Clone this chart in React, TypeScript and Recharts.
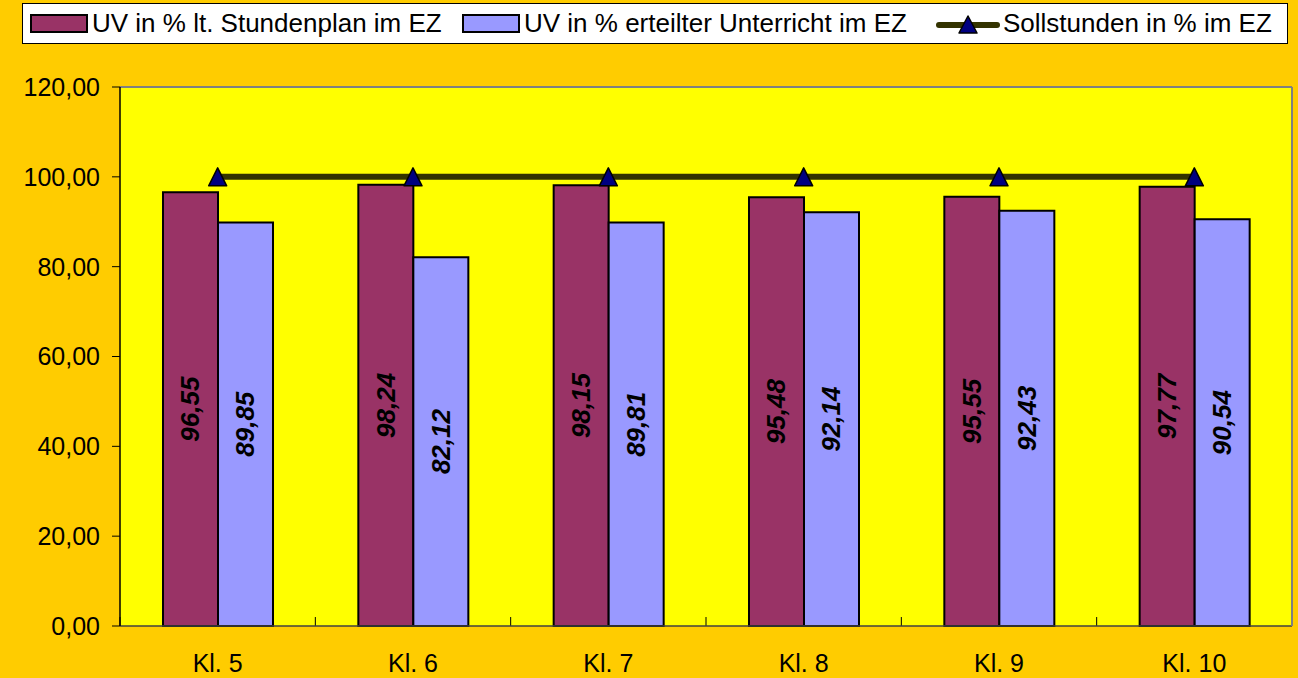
import React from "react";
import {
  ComposedChart,
  Bar,
  Line,
  XAxis,
  YAxis,
  CartesianGrid,
  ReferenceLine,
  LabelList,
} from "recharts";

const categories = ["Kl. 5", "Kl. 6", "Kl. 7", "Kl. 8", "Kl. 9", "Kl. 10"];
const planValues = [96.55, 98.24, 98.15, 95.48, 95.55, 97.77];
const erteiltValues = [89.85, 82.12, 89.81, 92.14, 92.43, 90.54];
const sollValues = [100, 100, 100, 100, 100, 100];
const yTicks = [0, 20, 40, 60, 80, 100, 120];
const boundaryTicks = [0, 1, 2, 3, 4, 5];

const seriesNames = [
  "UV in % lt. Stundenplan im EZ",
  "UV in % erteilter Unterricht im EZ",
  "Sollstunden in % im EZ",
];

const data = categories.map((c, i) => ({
  cat: c,
  idx: i,
  plan: planValues[i],
  erteilt: erteiltValues[i],
  soll: sollValues[i],
}));

const W = 1298;
const H = 678;
const FONT = "'Liberation Sans', Arial, sans-serif";

const fmt = (v: number) => v.toFixed(2).replace(".", ",");

const Triangle = (props: any) => {
  const { cx, cy } = props;
  if (cx == null || cy == null) return null;
  return (
    <polygon
      points={`${cx},${cy - 9} ${cx + 9},${cy + 9} ${cx - 9},${cy + 9}`}
      fill="#000080"
      stroke="#000"
      strokeWidth={1.5}
      strokeLinejoin="round"
    />
  );
};

const ValueLabel = (props: any) => {
  const { x, y, width, height, value } = props;
  const cx = x + width / 2;
  const cy = y + height / 2;
  return (
    <text
      x={cx}
      y={cy}
      transform={`rotate(-90, ${cx}, ${cy})`}
      textAnchor="middle"
      dominantBaseline="central"
      fontSize={26}
      fontWeight="bold"
      fontStyle="italic"
      fontFamily={FONT}
      fill="#000"
    >
      {fmt(value)}
    </text>
  );
};

const swatch = (color: string) => (
  <span
    style={{
      display: "inline-block",
      width: 54,
      height: 15,
      background: color,
      border: "2px solid #000",
      marginRight: 4,
    }}
  />
);

const LegendBox = () => (
  <div
    style={{
      position: "absolute",
      left: 22,
      top: 3,
      width: 1264,
      height: 39,
      background: "#fff",
      border: "1px solid #000",
      fontFamily: FONT,
      fontSize: 26,
      color: "#000",
    }}
  >
    <div style={{ position: "absolute", left: 7, top: 0, height: 39, display: "flex", alignItems: "center", whiteSpace: "nowrap" }}>
      {swatch("#993366")}
      <span>{seriesNames[0]}</span>
    </div>
    <div style={{ position: "absolute", left: 439, top: 0, height: 39, display: "flex", alignItems: "center", whiteSpace: "nowrap" }}>
      {swatch("#9999FF")}
      <span>{seriesNames[1]}</span>
    </div>
    <div style={{ position: "absolute", left: 912, top: 0, height: 39, display: "flex", alignItems: "center", whiteSpace: "nowrap" }}>
      <svg width={66} height={30} style={{ marginRight: 2 }}>
        <line x1={4} x2={62} y1={16} y2={16} stroke="#333300" strokeWidth={6} strokeLinecap="round" />
        <polygon points="33,7 42,24 24,24" fill="#000080" stroke="#000" strokeWidth={1.5} strokeLinejoin="round" />
      </svg>
      <span>{seriesNames[2]}</span>
    </div>
  </div>
);

export default function App() {
  return (
    <div
      style={{
        position: "absolute",
        left: 0,
        top: 0,
        width: W,
        height: H,
        background: "#FFCC00",
        overflow: "hidden",
      }}
    >
      <LegendBox />
      <ComposedChart
        width={W}
        height={H}
        data={data}
        margin={{ top: 87, right: 0, bottom: 0, left: 0 }}
        barGap={0}
        barSize={55}
      >
        <CartesianGrid fill="#FFFF00" horizontal={false} vertical={false} stroke="none" yAxisId="left" />
        <XAxis
          xAxisId="b"
          type="number"
          dataKey="idx"
          domain={[0, 6]}
          ticks={boundaryTicks}
          height={0}
          tickSize={7}
          tickFormatter={() => ""}
          tickLine={{ stroke: "#000" }}
          axisLine={false}
          allowDataOverflow
        />
        <XAxis
          dataKey="cat"
          height={52}
          tickSize={0}
          tickMargin={28}
          tick={{ fontSize: 25, fontFamily: FONT, fill: "#000" }}
          axisLine={{ stroke: "#404040", strokeWidth: 1.5 }}
          tickLine={false}
          interval={0}
        />
        <YAxis
          yAxisId="left"
          width={120}
          domain={[0, 120]}
          ticks={yTicks}
          tickFormatter={fmt}
          tickSize={8}
          tickMargin={12}
          axisLine={{ stroke: "#000", strokeWidth: 1.5 }}
          tickLine={{ stroke: "#000" }}
          tick={{ fontSize: 25, fontFamily: FONT, fill: "#000" }}
          interval={0}
        />
        <YAxis
          yAxisId="right"
          orientation="right"
          width={6}
          domain={[0, 120]}
          tick={false}
          tickLine={false}
          axisLine={{ stroke: "#808080", strokeWidth: 2 }}
        />
        <ReferenceLine yAxisId="left" y={120} stroke="#808080" strokeWidth={2} />
        {boundaryTicks.map((b) => (
          <ReferenceLine
            key={b}
            xAxisId="b"
            yAxisId="left"
            segment={[{ x: b, y: 0 }, { x: b, y: 2 }]}
            stroke="#000"
            strokeWidth={1}
            ifOverflow="visible"
          />
        ))}
        <Bar
          yAxisId="left"
          dataKey="plan"
          name={seriesNames[0]}
          fill="#993366"
          stroke="#000"
          strokeWidth={2}
          isAnimationActive={false}
        >
          <LabelList dataKey="plan" content={<ValueLabel />} />
        </Bar>
        <Bar
          yAxisId="left"
          dataKey="erteilt"
          name={seriesNames[1]}
          fill="#9999FF"
          stroke="#000"
          strokeWidth={2}
          isAnimationActive={false}
        >
          <LabelList dataKey="erteilt" content={<ValueLabel />} />
        </Bar>
        <Line
          yAxisId="left"
          dataKey="soll"
          name={seriesNames[2]}
          stroke="#333300"
          strokeWidth={6}
          dot={<Triangle />}
          activeDot={false}
          isAnimationActive={false}
        />
      </ComposedChart>
    </div>
  );
}
